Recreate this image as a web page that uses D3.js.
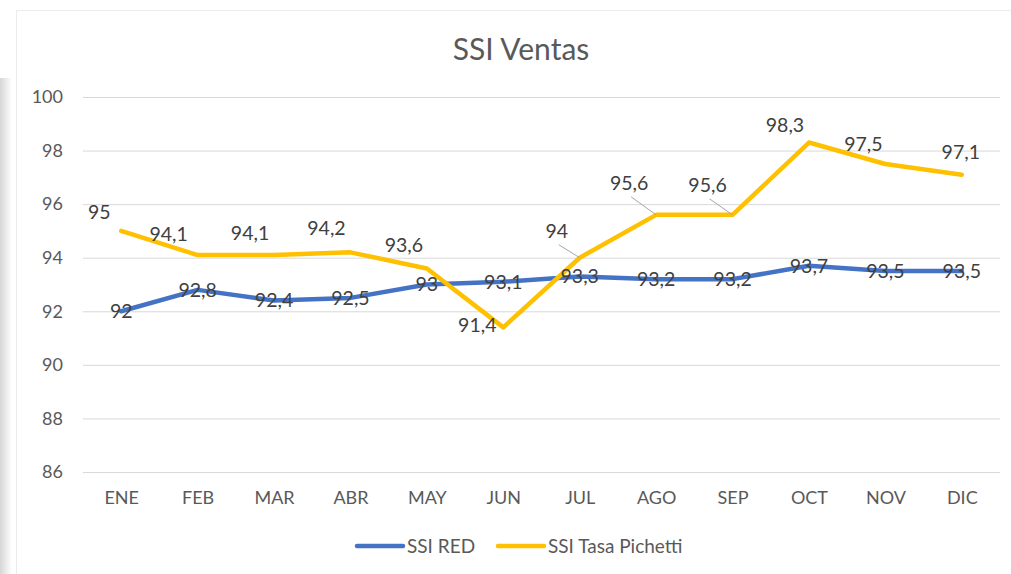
<!DOCTYPE html>
<html lang="es">
<head>
<meta charset="UTF-8">
<title>SSI Ventas</title>
<script src="https://cdnjs.cloudflare.com/ajax/libs/d3/7.8.5/d3.min.js"></script>
<style>
  body { margin: 0; background: #fff; }
  svg { display: block; font-family: Lato, "Open Sans", sans-serif; }
</style>
</head>
<body>
<svg id="chart" width="1011" height="574"></svg>
<script>
var months = ["ENE", "FEB", "MAR", "ABR", "MAY", "JUN", "JUL", "AGO", "SEP", "OCT", "NOV", "DIC"];
var ssiRed = [92, 92.8, 92.4, 92.5, 93, 93.1, 93.3, 93.2, 93.2, 93.7, 93.5, 93.5];
var ssiPichetti = [95, 94.1, 94.1, 94.2, 93.6, 91.4, 94, 95.6, 95.6, 98.3, 97.5, 97.1];
var yTicks = [86, 88, 90, 92, 94, 96, 98, 100];

// offsets for the yellow labels (excel moved some of them by hand)
var pichettiLabelShift = [[-22, -19], [-29, -21], [-24, -22], [-24, -24], [-23, -23], [-26, -2],
                          [-23, -27], [-27, -32], [-25, -30], [-24, -17], [-22, -20], [-1, -23]];
var leaderLines = [6, 7, 8];

var svg = d3.select("#chart");
var margin = {top: 97, right: 11, bottom: 102, left: 83};
var width = +svg.attr("width") - margin.left - margin.right;
var height = +svg.attr("height") - margin.top - margin.bottom;

// frame + left shadow
var grad = svg.append("defs").append("linearGradient").attr("id", "shadow");
grad.append("stop").attr("offset", "0").attr("stop-color", "#d6d6d6");
grad.append("stop").attr("offset", "1").attr("stop-color", "#ffffff");
svg.append("rect").attr("x", 0).attr("y", 78).attr("width", 12).attr("height", 496).attr("fill", "url(#shadow)");
svg.append("path").attr("d", "M16.5,574 V10.5 H1011").attr("fill", "none").attr("stroke", "#ececec");

var g = svg.append("g").attr("transform", "translate(" + margin.left + "," + margin.top + ")");

var x = d3.scalePoint().domain(months).range([0, width]).padding(0.5);
var y = d3.scaleLinear().domain([86, 100]).range([height, 0]);

g.selectAll(".grid").data(yTicks).enter().append("line")
  .attr("x1", 0).attr("x2", width)
  .attr("y1", function(d) { return y(d) + 0.5; })
  .attr("y2", function(d) { return y(d) + 0.5; })
  .attr("stroke", "#d9d9d9").attr("stroke-width", 1);

var yAxis = g.append("g").call(d3.axisLeft(y).tickValues(yTicks).tickSize(0).tickPadding(20));
yAxis.select(".domain").remove();
yAxis.selectAll("text").attr("fill", "#595959").style("font-size", "18px").style("font-family", "Lato, sans-serif");

var xAxis = g.append("g").attr("transform", "translate(0," + height + ")")
  .call(d3.axisBottom(x).tickSize(0).tickPadding(19));
xAxis.select(".domain").remove();
xAxis.selectAll("text").attr("fill", "#595959").style("font-size", "18px").style("font-family", "Lato, sans-serif");

svg.append("text").attr("x", 521).attr("y", 60).attr("text-anchor", "middle")
  .attr("fill", "#595959").style("font-size", "30px").text("SSI Ventas");

var line = d3.line().x(function(d, i) { return x(months[i]); }).y(function(d) { return y(d); });

g.append("path").datum(ssiRed).attr("d", line).attr("fill", "none")
  .attr("stroke", "#4472C4").attr("stroke-width", 4.5).attr("stroke-linejoin", "round").attr("stroke-linecap", "round");
g.append("path").datum(ssiPichetti).attr("d", line).attr("fill", "none")
  .attr("stroke", "#FFC000").attr("stroke-width", 4.5).attr("stroke-linejoin", "round").attr("stroke-linecap", "round");

function fmt(v) { return String(v).replace(".", ","); }

// leader lines
g.selectAll(".leader").data(leaderLines).enter().append("line")
  .attr("x1", function(i) { return x(months[i]) + pichettiLabelShift[i][0] + 2; })
  .attr("y1", function(i) { return y(ssiPichetti[i]) + pichettiLabelShift[i][1] + 14; })
  .attr("x2", function(i) { return x(months[i]); })
  .attr("y2", function(i) { return y(ssiPichetti[i]); })
  .attr("stroke", "#a6a6a6").attr("stroke-width", 1);

g.selectAll(".lblP").data(ssiPichetti).enter().append("text")
  .attr("x", function(d, i) { return x(months[i]) + pichettiLabelShift[i][0]; })
  .attr("y", function(d, i) { return y(d) + pichettiLabelShift[i][1]; })
  .attr("dy", "0.35em").attr("text-anchor", "middle")
  .attr("fill", "#404040").style("font-size", "19.5px").text(fmt);

g.selectAll(".lblR").data(ssiRed).enter().append("text")
  .attr("x", function(d, i) { return x(months[i]); })
  .attr("y", function(d) { return y(d); })
  .attr("dy", "0.35em").attr("text-anchor", "middle")
  .attr("fill", "#404040").style("font-size", "19.5px").text(fmt);

// legend
var legend = svg.append("g").attr("transform", "translate(0,546)");
var items = [{name: "SSI RED", color: "#4472C4", x: 357}, {name: "SSI Tasa Pichetti", color: "#FFC000", x: 498}];
items.forEach(function(it) {
  legend.append("line").attr("x1", it.x).attr("x2", it.x + 46).attr("y1", 0).attr("y2", 0)
    .attr("stroke", it.color).attr("stroke-width", 4.5).attr("stroke-linecap", "round");
  legend.append("text").attr("x", it.x + 50).attr("y", 0).attr("dy", "0.35em")
    .attr("fill", "#595959").style("font-size", "19px").text(it.name);
});
</script>
</body>
</html>
